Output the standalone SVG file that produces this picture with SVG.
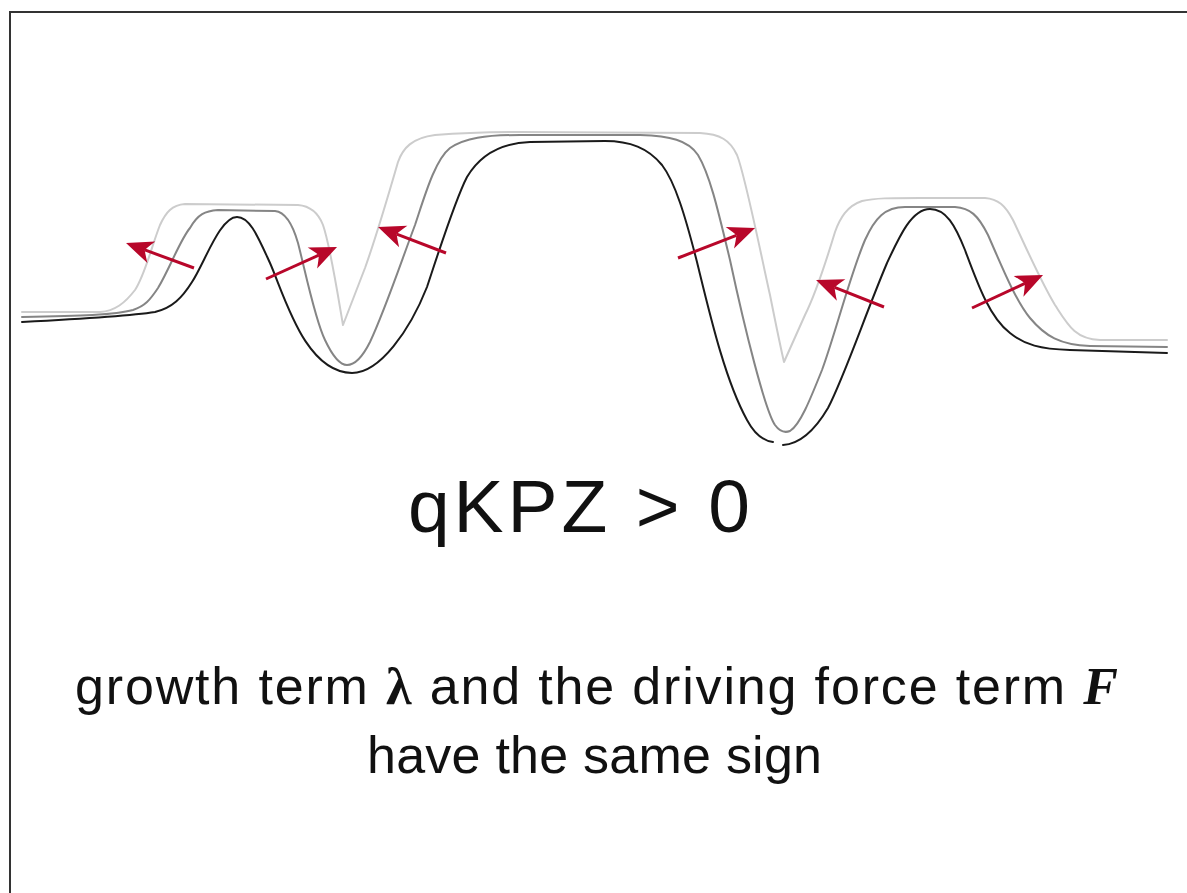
<svg xmlns="http://www.w3.org/2000/svg" width="1187" height="893" viewBox="0 0 1187 893">
<style>
.curve{fill:none;stroke-width:2;stroke-linejoin:round;stroke-linecap:round}
.c-light{stroke:#cccccc}
.c-mid{stroke:#858585}
.c-dark{stroke:#1a1a1a}
.arr{stroke:#b8072a;stroke-width:3;fill:none;marker-end:url(#head)}
.sans{font-family:"Liberation Sans","DejaVu Sans",sans-serif;fill:#111}
.math{font-family:"Liberation Serif","DejaVu Serif",serif;font-weight:bold}
</style>
<defs>
<marker id="head" markerUnits="userSpaceOnUse" viewBox="-9 -13 31 26" markerWidth="31" markerHeight="26" refX="0" refY="0" orient="auto">
<path d="M20,0 L-7,-11.5 Q-2,-4 0,0 Q-2,4 -7,11.5 Z" fill="#b8072a"/>
</marker>
</defs>
<rect width="1187" height="893" fill="#ffffff"/>
<g id="frame" fill="none" stroke="#333333" stroke-width="2">
<path d="M10,893 L10,12 L1187,12"/>
</g>
<g id="interfaces">
<path id="curve-light" class="curve c-light" d="M22,312 L100,312 C115,311 125,303 135,290 C145,275 152,245 160,225 C166,212 172,205 185,204 L298,205 C310,206 318,212 323,225 C330,245 337,290 343,325 L365,268 C375,240 387,200 398,162 C403,148 412,138 435,135 C460,133 490,132 520,132 L700,133 C720,134 730,140 737,155 C745,175 760,250 770,295 C775,320 780,345 784,362 L805,315 C815,295 825,265 835,232 C840,218 847,206 862,201 C875,198 890,198 920,198 L985,198 C998,199 1005,205 1013,220 C1025,245 1040,280 1055,305 C1068,325 1075,339 1100,340 L1167,340"/>
<path id="curve-mid" class="curve c-mid" d="M22,317 C80,316 115,315 133,310 C145,306 150,300 158,288 C170,268 180,240 190,228 C198,214 205,211 218,210 L275,211 C285,212 292,222 298,243 C305,270 315,320 325,340 C333,357 340,365 347,365 C355,365 362,358 370,342 C385,310 400,265 415,225 C425,195 435,160 450,148 C465,138 485,135 520,135 L640,135 C670,136 688,140 698,155 C710,175 718,210 730,260 C745,330 765,410 775,425 C780,432 785,433 790,431 C800,425 810,400 822,370 C835,335 850,275 865,240 C875,218 885,207 905,207 L955,207 C970,208 978,215 988,235 C1000,262 1015,300 1030,318 C1045,336 1060,345 1090,346 L1167,347"/>
<path id="curve-dark-a" class="curve c-dark" d="M22,322 C80,319 130,316 155,312 C172,308 182,298 192,282 C205,262 220,217 237,217 C250,217 258,237 270,263 C285,297 305,372 352,373 C380,373 410,330 427,287 C436,260 455,200 467,177 C480,155 500,143 530,142 L605,141 C630,141 648,148 662,165 C675,182 685,215 697,262 C710,315 725,380 747,420 C755,435 765,441 773,442"/>
<path id="curve-dark-b" class="curve c-dark" d="M783,445 C800,444 815,430 828,408 C845,375 865,315 887,263 C900,235 912,209 930,209 C946,209 955,225 965,250 C978,285 990,318 1010,333 C1025,345 1040,349 1070,350 L1167,353"/>
</g>
<g id="connectors">
<line class="arr" x1="194" y1="268" x2="144.8" y2="249.9"/>
<line class="arr" x1="266" y1="279" x2="318.8" y2="255.2"/>
<line class="arr" x1="446" y1="253" x2="396.7" y2="234.1"/>
<line class="arr" x1="678" y1="258" x2="736.4" y2="235.3"/>
<line class="arr" x1="884" y1="307" x2="834.6" y2="287.4"/>
<line class="arr" x1="972" y1="308" x2="1024.9" y2="283.4"/>
</g>
<g id="title">
<text class="sans" x="408" y="532" font-size="75" textLength="342" lengthAdjust="spacing">qKPZ &gt; 0</text>
</g>
<g id="caption">
<text class="sans" x="75" y="704" font-size="52" textLength="1043" lengthAdjust="spacing">growth term <tspan class="math">λ</tspan> and the driving force term <tspan class="math" font-style="italic">F</tspan></text>
<text class="sans" x="367" y="773" font-size="52" textLength="455" lengthAdjust="spacing">have the same sign</text>
</g>
</svg>
